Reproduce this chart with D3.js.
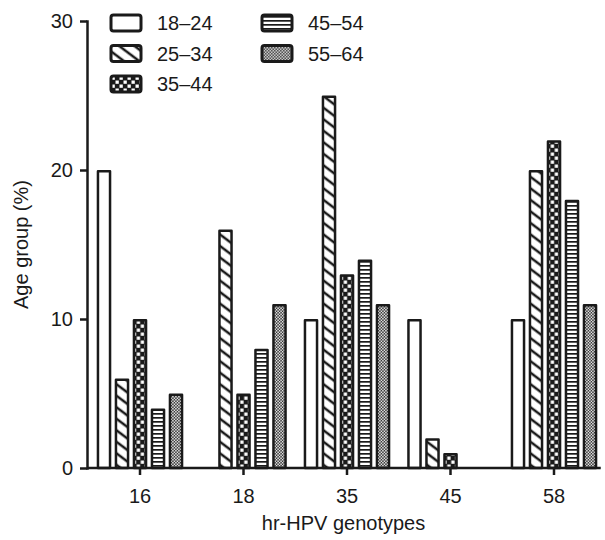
<!DOCTYPE html>
<html>
<head>
<meta charset="utf-8">
<title>hr-HPV genotypes by age group</title>
<script src="https://cdn.jsdelivr.net/npm/d3@7"></script>
<style>
body, html {
  margin: 0;
  background: #fff;
}
text {
  font-family: "Liberation Sans", Arial, Helvetica, sans-serif;
  fill: #1a1a1a;
}
.axis path, .axis line {
  stroke: #1a1a1a;
  stroke-width: 2.5px;
}
.bar {
  stroke: #1a1a1a;
  stroke-width: 2.5px;
  stroke-linejoin: round;
}
</style>
</head>
<body>
<svg id="chart" width="605" height="540"></svg>
<script>
// data
var genotypes = ["16", "18", "35", "45", "58"];
var ageGroups = ["18–24", "25–34", "35–44", "45–54", "55–64"];
var pct18to24 = [20, 0, 10, 10, 10];
var pct25to34 = [6, 16, 25, 2, 20];
var pct35to44 = [10, 5, 13, 1, 22];
var pct45to54 = [4, 8, 14, 0, 18];
var pct55to64 = [5, 11, 11, 0, 11];
var yTicks = [0, 10, 20, 30];

var series = [pct18to24, pct25to34, pct35to44, pct45to54, pct55to64];
var ink = "#1a1a1a";

var svg = d3.select("#chart");
var axisX = 87;

var y = d3.scaleLinear()
    .domain([0, 30])
    .range([468, 21]);

var x0 = d3.scaleBand()
    .domain(genotypes)
    .range([88.25, 605.75]);

var x1 = d3.scaleBand()
    .domain(ageGroups)
    .range([x0.bandwidth() / 2 - 45, x0.bandwidth() / 2 + 45])
    .paddingInner(0.19)
    .paddingOuter(0.095);

// fill patterns
var defs = svg.append("defs");

var pDiag = defs.append("pattern")
    .attr("id", "p1")
    .attr("patternUnits", "userSpaceOnUse")
    .attr("width", 9.2).attr("height", 9.2)
    .attr("patternTransform", "rotate(37)");
pDiag.append("rect").attr("width", 9.2).attr("height", 9.2).attr("fill", "#fff");
pDiag.append("rect").attr("y", 3.4).attr("width", 9.2).attr("height", 2.5).attr("fill", ink);

var pChk = defs.append("pattern")
    .attr("id", "p2")
    .attr("patternUnits", "userSpaceOnUse")
    .attr("width", 8).attr("height", 8);
pChk.append("rect").attr("width", 8).attr("height", 8).attr("fill", ink);
pChk.append("rect").attr("x", 0.5).attr("y", 0.5).attr("width", 3.3).attr("height", 3.3).attr("fill", "#fff");
pChk.append("rect").attr("x", 4.5).attr("y", 4.5).attr("width", 3.3).attr("height", 3.3).attr("fill", "#fff");

var pHor = defs.append("pattern")
    .attr("id", "p3")
    .attr("patternUnits", "userSpaceOnUse")
    .attr("width", 4).attr("height", 4);
pHor.append("rect").attr("width", 4).attr("height", 4).attr("fill", "#fff");
pHor.append("rect").attr("y", 1).attr("width", 4).attr("height", 1.7).attr("fill", ink);

var pFine = defs.append("pattern")
    .attr("id", "p4")
    .attr("patternUnits", "userSpaceOnUse")
    .attr("width", 3).attr("height", 3);
pFine.append("rect").attr("width", 3).attr("height", 3).attr("fill", ink);
pFine.append("rect").attr("width", 1.5).attr("height", 1.5).attr("fill", "#fff");
pFine.append("rect").attr("x", 1.5).attr("y", 1.5).attr("width", 1.5).attr("height", 1.5).attr("fill", "#fff");

var fills = ["#fff", "url(#p1)", "url(#p2)", "url(#p3)", "url(#p4)"];

// bars
var groups = svg.append("g")
  .selectAll("g")
  .data(genotypes)
  .enter().append("g")
    .attr("transform", function(d) { return "translate(" + x0(d) + ",0)"; });

groups.selectAll("rect")
  .data(function(d, gi) {
    return ageGroups.map(function(a, si) {
      return {age: a, si: si, value: series[si][gi]};
    }).filter(function(e) { return e.value > 0; });
  })
  .enter().append("rect")
    .attr("class", "bar")
    .attr("x", function(d) { return x1(d.age) + 1.25; })
    .attr("width", x1.bandwidth() - 2.5)
    .attr("y", function(d) { return y(d.value) + 1.25; })
    .attr("height", function(d) { return y(0) - y(d.value) - 1.25; })
    .attr("fill", function(d) { return fills[d.si]; });

// y axis
var yAxis = svg.append("g")
    .attr("class", "axis")
    .attr("transform", "translate(" + axisX + ",0)")
    .call(d3.axisLeft(y).tickValues(yTicks).tickSize(7).tickSizeOuter(0).tickPadding(7));
yAxis.selectAll("text").style("font-size", "20px");
yAxis.select(".domain").attr("stroke-linecap", "square");

// x axis
var xAxis = svg.append("g")
    .attr("class", "axis")
    .attr("transform", "translate(0," + y(0) + ")")
    .call(d3.axisBottom(x0).tickSize(7).tickPadding(14));
xAxis.select(".domain").remove();
xAxis.selectAll("text").style("font-size", "20px");
xAxis.append("line")
    .attr("x1", axisX)
    .attr("x2", x0.range()[1] - 5)
    .attr("stroke", ink)
    .attr("stroke-width", 2.5);

// axis titles
svg.append("text")
    .attr("x", (axisX + 600) / 2)
    .attr("y", 530)
    .attr("text-anchor", "middle")
    .style("font-size", "20px")
    .text("hr-HPV genotypes");

svg.append("text")
    .attr("transform", "translate(28," + (y(0) + y(30)) / 2 + ") rotate(-90)")
    .attr("text-anchor", "middle")
    .style("font-size", "20px")
    .text("Age group (%)");

// legend
var legend = svg.append("g")
  .selectAll("g")
  .data(ageGroups)
  .enter().append("g")
    .attr("transform", function(d, i) {
      var col = i < 3 ? 0 : 1, row = i % 3;
      return "translate(" + (111 + col * 151) + "," + (15 + row * 30.5) + ")";
    });

legend.append("rect")
    .attr("width", 30)
    .attr("height", 16)
    .attr("rx", 2.5)
    .attr("fill", function(d, i) { return fills[i]; })
    .attr("stroke", ink)
    .attr("stroke-width", 3);

legend.append("text")
    .attr("x", 46)
    .attr("y", 8)
    .attr("dy", "0.35em")
    .style("font-size", "20px")
    .text(function(d) { return d; });
</script>
</body>
</html>
